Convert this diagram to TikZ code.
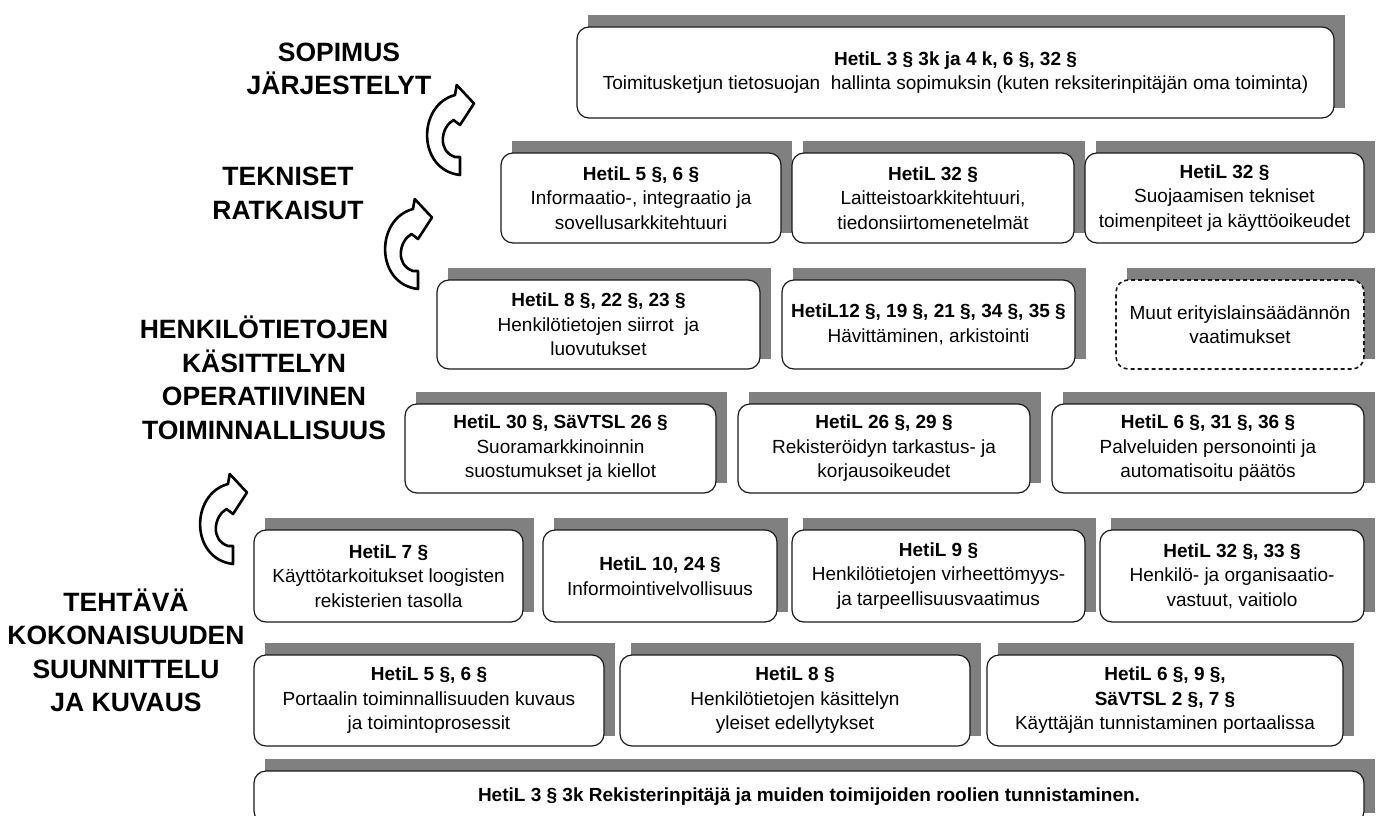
\documentclass[tikz,border=0pt]{standalone}
\usepackage{fontspec}
\setmainfont{Liberation Sans}
\definecolor{shadowgray}{HTML}{808080}
\definecolor{edge}{HTML}{1A1A1A}

% A law box: grey sharp-cornered shadow up-right, white rounded card on top.
% #1 extra style, #2 name, #3 x1, #4 y1, #5 x2, #6 y2, #7 text
\newcommand\lawbox[7][]{%
  \fill[shadowgray] ({#3+11},{#4-12}) rectangle ({#5+11},{#6-10});
  \node[card,#1,minimum width={(#5-#3)*1pt},minimum height={(#6-#4)*1pt}]
    (#2) at ({(#3+#5)/2},{(#4+#6)/2}) {#7};%
}

\begin{document}
\begin{tikzpicture}[x=1pt,y=-1pt,
  card/.style={draw=edge,line width=1.2pt,rounded corners=12pt,fill=white,
    inner sep=0pt,outer sep=0pt,align=center,
    font=\fontsize{19}{24.5}\selectfont},
  level/.style={align=center,font=\fontsize{26.5}{33.5}\selectfont\bfseries},
  dashedcard/.style={dashed,dash pattern=on 4pt off 3pt,line width=1.6pt},
  turnarrow/.pic={
    \draw[line width=2.6pt,fill=white,line join=round]
      (30,10) -- (31.7,0) -- (49,18.5) -- (35,40) -- (28.5,35)
      .. controls (16,42) and (12,66) .. (30,72) -- (35,72) -- (35,90)
      .. controls (-8,85) and (-8,20) .. (30,10) -- cycle;
  }]
\useasboundingbox (0,0) rectangle (1376,816);

% level titles
\node[level] (sopimus) at (339,69) {SOPIMUS\\JÄRJESTELYT};
\node[level] (tekniset) at (288,193.5) {TEKNISET\\RATKAISUT};
\node[level] (operatiivinen) at (264,378) {HENKILÖTIETOJEN\\KÄSITTELYN\\OPERATIIVINEN\\TOIMINNALLISUUS};
\node[level] (tehtava) at (126,650.5) {TEHTÄVÄ\\KOKONAISUUDEN\\SUUNNITTELU\\JA KUVAUS};

% turning arrows between the levels
\pic (turnA) at (425,85) {turnarrow};
\pic (turnB) at (383,199) {turnarrow};
\pic (turnC) at (198,474) {turnarrow};

% top level: agreements
\lawbox{sopimus1}{577}{27}{1334}{118}{\textbf{HetiL 3 § 3k ja 4 k, 6 §, 32 §}\\Toimitusketjun tietosuojan\ \ hallinta sopimuksin (kuten reksiterinpitäjän oma toiminta)}

% technical solutions
\lawbox{tek1}{501}{153}{781}{243}{\textbf{HetiL 5 §, 6 §}\\Informaatio-, integraatio ja\\sovellusarkkitehtuuri}
\lawbox{tek2}{792}{153}{1074}{243}{\textbf{HetiL 32 §}\\Laitteistoarkkitehtuuri,\\tiedonsiirtomenetelmät}
\lawbox{tek3}{1085}{153}{1364}{243}{\textbf{HetiL 32 §}\\Suojaamisen tekniset\\toimenpiteet ja käyttöoikeudet}

% operative processing, upper row
\lawbox{ops1}{437}{280}{760}{369}{\textbf{HetiL 8 §, 22 §, 23 §}\\Henkilötietojen siirrot\ \ ja\\luovutukset}
\lawbox{ops2}{782}{280}{1075}{369}{\textbf{HetiL12 §, 19 §, 21 §, 34 §, 35 §}\\Hävittäminen, arkistointi}
\lawbox[dashedcard]{ops3}{1116}{280}{1364}{369}{Muut erityislainsäädännön\\vaatimukset}

% operative processing, lower row
\lawbox{ops4}{405}{404}{716}{493}{\textbf{HetiL 30 §, SäVTSL 26 §}\\Suoramarkkinoinnin\\suostumukset ja kiellot}
\lawbox{ops5}{738}{404}{1030}{493}{\textbf{HetiL 26 §, 29 §}\\Rekisteröidyn tarkastus- ja\\korjausoikeudet}
\lawbox{ops6}{1052}{404}{1364}{493}{\textbf{HetiL 6 §, 31 §, 36 §}\\Palveluiden personointi ja\\automatisoitu päätös}

% planning and description, upper row
\lawbox{plan1}{254}{530}{523}{622}{\textbf{HetiL 7 §}\\Käyttötarkoitukset loogisten\\rekisterien tasolla}
\lawbox{plan2}{543}{530}{777}{622}{\textbf{HetiL 10, 24 §}\\Informointivelvollisuus}
\lawbox{plan3}{792}{530}{1085}{622}{\textbf{HetiL 9 §}\\Henkilötietojen virheettömyys-\\ja tarpeellisuusvaatimus}
\lawbox{plan4}{1100}{530}{1364}{622}{\textbf{HetiL 32 §, 33 §}\\Henkilö- ja organisaatio-\\vastuut, vaitiolo}

% planning and description, lower row
\lawbox{plan5}{254}{655}{604}{746}{\textbf{HetiL 5 §, 6 §}\\Portaalin toiminnallisuuden kuvaus\\ja toimintoprosessit}
\lawbox{plan6}{620}{655}{970}{746}{\textbf{HetiL 8 §}\\Henkilötietojen käsittelyn\\yleiset edellytykset}
\lawbox{plan7}{987}{655}{1343}{746}{\textbf{HetiL 6 §, 9 §,}\\\textbf{SäVTSL 2 §, 7 §}\\Käyttäjän tunnistaminen portaalissa}

% foundation
\lawbox{roles}{254}{771}{1364}{823}{\textbf{HetiL 3 § 3k Rekisterinpitäjä ja muiden toimijoiden roolien tunnistaminen.}}
\end{tikzpicture}
\end{document}
